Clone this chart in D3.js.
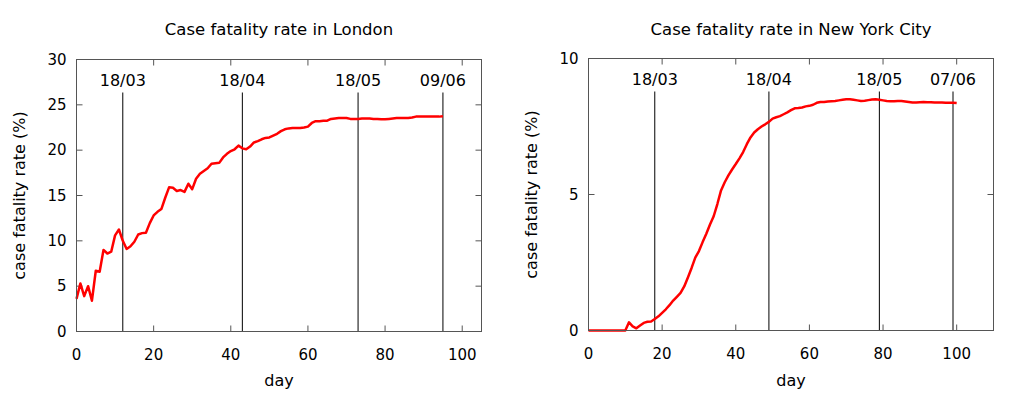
<!DOCTYPE html>
<html>
<head>
<meta charset="utf-8">
<title>Case fatality rate</title>
<script src="https://cdn.jsdelivr.net/npm/d3@7"></script>
<style>
  body { margin: 0; background: #fff; }
  svg { display: block; }
  text { font-family: "DejaVu Sans", Verdana, sans-serif; font-size: 16px; fill: #000; }
  text.num { font-size: 15px; }
  text.title { font-size: 16.5px; }
  .frame { fill: none; stroke: #555; stroke-width: 1; }
  .tick { stroke: #555; stroke-width: 1; }
  .marker { stroke: #000; stroke-width: 1; }
  .curve { fill: none; stroke: #ff0000; stroke-width: 2.5; stroke-linejoin: round; }
</style>
</head>
<body>
<script>
// London, days 0..95 (day 0 = 06/03)
var londonRate = [3.6, 5.3, 3.9, 5.0, 3.4, 6.7, 6.6, 9.0, 8.6, 8.8,
  10.6, 11.25, 10.0, 9.1, 9.4, 9.9, 10.7, 10.85, 10.9, 11.95,
  12.8, 13.2, 13.5, 14.75, 15.9, 15.85, 15.5, 15.6, 15.4, 16.3,
  15.7, 16.85, 17.4, 17.7, 18.0, 18.5, 18.55, 18.6, 19.2, 19.6,
  19.9, 20.1, 20.5, 20.2, 20.1, 20.4, 20.85, 21.0, 21.2, 21.35,
  21.4, 21.6, 21.8, 22.1, 22.3, 22.4, 22.45, 22.45, 22.45, 22.5,
  22.6, 23.0, 23.2, 23.2, 23.25, 23.25, 23.45, 23.5, 23.55, 23.55,
  23.55, 23.45, 23.45, 23.45, 23.5, 23.5, 23.5, 23.45, 23.45, 23.4,
  23.4, 23.45, 23.5, 23.55, 23.55, 23.55, 23.55, 23.6, 23.7, 23.7,
  23.7, 23.7, 23.7, 23.7, 23.7, 23.75];
var londonMarkDays = [12, 43, 73, 95];
var londonMarkLabels = ["18/03", "18/04", "18/05", "09/06"];
var londonYTicks = [0, 5, 10, 15, 20, 25, 30];

// New York City, days 0..100 (day 0 = 29/02)
var nycRate = [0, 0, 0, 0, 0, 0, 0, 0, 0, 0,
  0, 0.3, 0.15, 0.08, 0.18, 0.28, 0.32, 0.33, 0.42, 0.52,
  0.65, 0.78, 0.93, 1.1, 1.24, 1.38, 1.62, 1.95, 2.3, 2.68,
  2.92, 3.25, 3.56, 3.9, 4.2, 4.65, 5.15, 5.45, 5.7, 5.92,
  6.12, 6.33, 6.56, 6.85, 7.1, 7.28, 7.4, 7.5, 7.58, 7.67,
  7.79, 7.84, 7.88, 7.95, 8.02, 8.1, 8.17, 8.18, 8.2, 8.24,
  8.26, 8.3, 8.37, 8.4, 8.4, 8.42, 8.43, 8.44, 8.46, 8.48,
  8.5, 8.5, 8.48, 8.46, 8.44, 8.45, 8.47, 8.49, 8.5, 8.48,
  8.46, 8.44, 8.43, 8.43, 8.44, 8.44, 8.42, 8.4, 8.38, 8.38,
  8.39, 8.4, 8.39, 8.39, 8.38, 8.38, 8.38, 8.37, 8.37, 8.37, 8.36];
var nycMarkDays = [18, 49, 79, 99];
var nycMarkLabels = ["18/03", "18/04", "18/05", "07/06"];
var nycYTicks = [0, 5, 10];

var xTicks = [0, 20, 40, 60, 80, 100];

var svg = d3.select('body').append('svg')
	.attr('width', 1024)
	.attr('height', 394);

function drawPanel(opt) {
	var x = d3.scaleLinear().domain([0, opt.xMax]).range([opt.left, opt.right]);
	var y = d3.scaleLinear().domain([0, opt.yMax]).range([opt.bottom, opt.top]);
	var g = svg.append('g');
	var tl = 6;

	// title and labels
	g.append('text').attr('class', 'title')
		.attr('x', (opt.left + opt.right) / 2).attr('y', 35)
		.attr('text-anchor', 'middle')
		.text(opt.title);
	g.append('text')
		.attr('x', (opt.left + opt.right) / 2).attr('y', 386)
		.attr('text-anchor', 'middle')
		.text('day');
	g.append('text')
		.attr('transform', 'translate(' + (opt.left - 52) + ',' + ((opt.top + opt.bottom) / 2) + ') rotate(-90)')
		.attr('text-anchor', 'middle')
		.text('case fatality rate (%)');

	// x ticks, mirrored on top
	xTicks.forEach(function(t) {
		g.append('line').attr('class', 'tick')
			.attr('x1', x(t)).attr('x2', x(t))
			.attr('y1', opt.bottom).attr('y2', opt.bottom - tl);
		g.append('line').attr('class', 'tick')
			.attr('x1', x(t)).attr('x2', x(t))
			.attr('y1', opt.top).attr('y2', opt.top + tl);
		g.append('text').attr('class', 'num')
			.attr('x', x(t)).attr('y', opt.bottom + 28)
			.attr('text-anchor', 'middle')
			.text(t);
	});

	// y ticks, mirrored on right
	opt.yTicks.forEach(function(t) {
		g.append('line').attr('class', 'tick')
			.attr('x1', opt.left).attr('x2', opt.left + tl)
			.attr('y1', y(t)).attr('y2', y(t));
		g.append('line').attr('class', 'tick')
			.attr('x1', opt.right).attr('x2', opt.right - tl)
			.attr('y1', y(t)).attr('y2', y(t));
		g.append('text').attr('class', 'num')
			.attr('x', opt.left - 10).attr('y', y(t) + 5)
			.attr('text-anchor', 'end')
			.text(t);
	});

	// date markers
	opt.markDays.forEach(function(d, i) {
		g.append('line').attr('class', 'marker')
			.attr('x1', x(d)).attr('x2', x(d))
			.attr('y1', opt.top + 33).attr('y2', opt.bottom);
		g.append('text')
			.attr('x', x(d)).attr('y', opt.top + 26)
			.attr('text-anchor', 'middle')
			.text(opt.markLabels[i]);
	});

	var line = d3.line()
		.x(function(d, i) { return x(i); })
		.y(function(d) { return y(d); });
	g.append('path').attr('class', 'curve')
		.attr('d', line(opt.data));

	g.append('rect').attr('class', 'frame')
		.attr('x', opt.left).attr('y', opt.top)
		.attr('width', opt.right - opt.left)
		.attr('height', opt.bottom - opt.top);
}

drawPanel({
	title: 'Case fatality rate in London',
	left: 76.5, right: 481.5, top: 59.5, bottom: 331.5,
	xMax: 105, yMax: 30, yTicks: londonYTicks,
	markDays: londonMarkDays, markLabels: londonMarkLabels,
	data: londonRate
});

drawPanel({
	title: 'Case fatality rate in New York City',
	left: 588.5, right: 993.5, top: 58.5, bottom: 330.5,
	xMax: 110, yMax: 10, yTicks: nycYTicks,
	markDays: nycMarkDays, markLabels: nycMarkLabels,
	data: nycRate
});
</script>
</body>
</html>
